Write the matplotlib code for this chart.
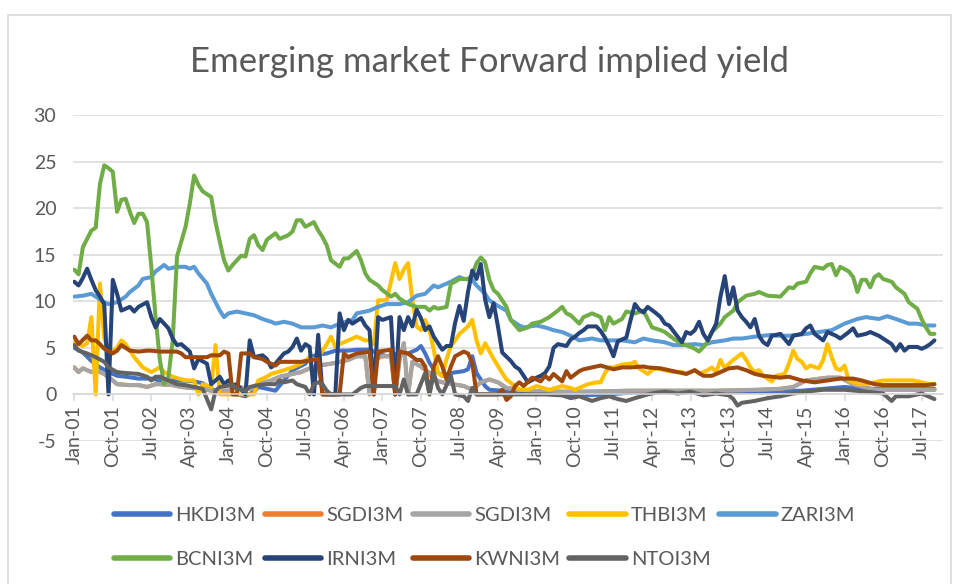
import matplotlib
matplotlib.use("Agg")
import matplotlib.pyplot as plt
from matplotlib.patches import Rectangle

plt.rcParams['font.family'] = ['Lato', 'DejaVu Sans']

title = "Emerging market Forward implied yield"

# month index 0 = Jan-01
tick_months = [0, 9, 18, 27, 36, 45, 54, 63, 72, 81, 90, 99, 108, 117, 126, 135,
               144, 153, 162, 171, 180, 189, 198]
tick_labels = ["Jan-01", "Oct-01", "Jul-02", "Apr-03", "Jan-04", "Oct-04", "Jul-05",
               "Apr-06", "Jan-07", "Oct-07", "Jul-08", "Apr-09", "Jan-10", "Oct-10",
               "Jul-11", "Apr-12", "Jan-13", "Oct-13", "Jul-14", "Apr-15", "Jan-16",
               "Oct-16", "Jul-17"]
y_ticks = [-5, 0, 5, 10, 15, 20, 25, 30]

hkdi_m = [0, 2, 4, 6, 8, 10, 12, 15, 18, 20, 22, 25, 28, 30, 32, 34, 36, 38, 40, 42, 43, 45, 47,
          49, 51, 54, 55, 57, 59, 61, 64, 66, 69, 71, 73, 76, 78, 80, 81, 82, 83, 84, 86, 88,
          91, 92, 93, 94, 96, 97, 100, 102, 110, 118, 125, 130, 140, 150, 160, 170, 175, 180,
          185, 190, 195, 201]
hkdi_v = [5.0, 4.5, 3.6, 2.9, 2.4, 2.0, 1.9, 1.7, 1.7, 1.5, 1.5, 1.5, 1.4, 1.2, 0.6, 0.2, 0.2,
          0.0, -0.2, 0.3, 0.8, 0.6, 0.4, 1.5, 2.6, 3.3, 4.0, 4.3, 4.4, 4.7, 4.7, 4.8, 4.8, 4.4,
          4.1, 4.4, 4.4, 4.8, 5.2, 4.4, 3.4, 2.7, 2.0, 2.3, 2.5, 2.7, 4.1, 2.3, 0.9, 0.5, 0.4,
          0.2, 0.1, -0.1, 0.0, 0.2, 0.3, 0.3, 0.3, 0.4, 0.6, 0.8, 0.6, 0.6, 0.6, 0.6]

sgdi_m = [0, 1, 2, 4, 5, 7, 9, 10, 13, 15, 17, 19, 20, 23, 25, 27, 30, 32, 36, 38, 41, 43, 46,
          48, 51, 53, 55, 57, 60, 62, 64, 66, 68, 69, 70, 72, 74, 75, 76, 77, 78, 79, 81, 83,
          84, 86, 91, 93, 95, 97, 99, 101, 104, 110, 120, 130, 140, 150, 160, 165, 168, 171,
          176, 179, 182, 187, 194, 201]
sgdi_v = [2.9, 2.4, 2.8, 2.4, 2.6, 2.2, 1.5, 1.1, 1.0, 1.0, 0.8, 1.1, 1.1, 1.0, 0.8, 0.7, 0.6,
          0.4, 0.4, 0.8, 0.6, 1.1, 1.5, 1.9, 2.2, 2.4, 2.8, 3.1, 3.3, 3.5, 3.7, 4.1, 4.1, 0.0,
          3.7, 4.1, 4.1, 0.0, 3.7, 5.5, 0.0, 3.5, 3.0, 2.3, 1.6, 1.3, 0.9, 0.5, 1.3, 1.6, 1.3,
          0.7, 0.5, 0.3, 0.3, 0.4, 0.4, 0.4, 0.5, 0.6, 0.8, 1.5, 1.8, 1.8, 1.1, 0.5, 0.5, 0.5]

thbi_m = [0, 1, 2, 3, 4, 5, 6, 7, 8, 9, 10, 11, 12, 14, 16, 18, 20, 21, 23, 26, 28, 29, 30, 32,
          33, 34, 36, 40, 42, 43, 45, 46, 49, 51, 53, 55, 56, 57, 59, 60, 61, 62, 64, 66, 68,
          69, 70, 71, 73, 75, 76, 77, 78, 79, 80, 81, 82, 83, 84, 85, 86, 87, 88, 89, 90, 91,
          92, 93, 94, 95, 96, 98, 100, 101, 103, 104, 106, 108, 111, 114, 116, 117, 119, 120,
          122, 123, 124, 125, 126, 128, 130, 131, 132, 134, 135, 136, 138, 140, 142, 143, 145,
          146, 148, 149, 150, 151, 152, 153, 154, 156, 157, 158, 159, 160, 161, 163, 164, 166,
          167, 168, 169, 170, 171, 172, 174, 175, 176, 177, 178, 179, 180, 181, 183, 185, 187,
          189, 192, 194, 196, 198, 200, 201]
thbi_v = [5.6, 5.4, 5.2, 5.5, 8.3, 0.0, 11.9, 6.0, 4.9, 4.6, 5.0, 5.8, 5.4, 4.0, 2.9, 2.4, 2.9,
          2.4, 1.9, 1.5, 1.5, 0.0, 1.1, 0.8, 5.3, 0.0, 0.0, 0.0, 0.0, 1.5, 1.9, 2.2, 2.6, 2.9,
          3.3, 4.0, 3.7, 4.0, 5.4, 6.2, 5.1, 5.4, 5.8, 6.2, 5.8, 5.8, 5.4, 10.1, 10.1, 14.1,
          12.4, 13.4, 14.1, 10.1, 7.3, 6.9, 8.0, 6.9, 4.8, 2.3, 2.0, 3.8, 5.2, 5.8, 6.5, 6.9,
          7.3, 8.0, 5.8, 4.4, 5.5, 3.8, 2.3, 1.6, 0.9, 0.5, 0.5, 0.9, 0.5, 0.9, 0.7, 0.5, 0.9,
          1.1, 1.3, 1.3, 2.3, 2.9, 2.9, 3.2, 3.3, 3.5, 2.8, 2.2, 2.6, 2.8, 2.6, 2.4, 2.4, 2.2,
          2.6, 2.2, 2.6, 2.9, 2.4, 3.7, 2.8, 3.3, 3.7, 4.4, 3.7, 2.9, 2.4, 2.6, 2.0, 1.4, 2.0,
          2.2, 3.3, 4.7, 3.8, 3.5, 2.8, 3.1, 2.8, 3.7, 5.4, 4.0, 2.8, 2.6, 3.1, 1.5, 1.1, 1.1,
          1.3, 1.5, 1.5, 1.5, 1.5, 1.3, 1.1, 1.1]

zari_m = [0, 2, 4, 5, 7, 8, 10, 12, 13, 15, 16, 18, 19, 21, 22, 24, 26, 27, 28, 29, 31, 32, 33,
          34, 35, 36, 38, 40, 42, 44, 46, 47, 49, 51, 53, 56, 58, 60, 62, 65, 66, 69, 71, 73,
          76, 78, 80, 82, 84, 85, 87, 88, 90, 91, 93, 94, 96, 97, 99, 101, 102, 104, 105, 108,
          110, 112, 114, 116, 118, 121, 123, 125, 128, 131, 133, 135, 138, 140, 142, 145, 147,
          149, 152, 154, 156, 159, 161, 163, 164, 167, 171, 174, 177, 180, 183, 185, 188, 190,
          192, 195, 197, 199, 201]
zari_v = [10.5, 10.6, 10.8, 10.5, 9.9, 9.7, 9.9, 10.5, 11.0, 11.7, 12.4, 12.6, 13.2, 13.9,
          13.5, 13.7, 13.7, 13.5, 13.7, 13.0, 11.9, 10.8, 9.9, 9.0, 8.3, 8.7, 8.9, 8.7, 8.5,
          8.1, 7.8, 7.6, 7.8, 7.6, 7.2, 7.2, 7.4, 7.2, 7.6, 8.0, 8.7, 9.0, 9.4, 9.7, 9.7, 9.9,
          10.6, 10.8, 11.7, 11.5, 11.9, 12.1, 12.6, 12.4, 12.3, 11.7, 10.8, 10.1, 9.5, 9.0,
          8.0, 7.4, 7.2, 7.4, 7.2, 6.9, 6.7, 6.3, 5.8, 6.0, 5.8, 5.8, 5.8, 5.6, 6.0, 5.8, 5.6,
          5.3, 5.3, 5.4, 5.3, 5.6, 5.8, 6.0, 6.0, 6.2, 6.3, 6.4, 6.3, 6.3, 6.5, 6.7, 6.9, 7.6,
          8.1, 8.3, 8.1, 8.4, 8.1, 7.6, 7.6, 7.4, 7.4]

bcni_m = [0, 1, 2, 3, 4, 5, 6, 7, 8, 9, 10, 11, 12, 13, 14, 15, 16, 17, 18, 19, 20, 21, 22, 23,
          24, 26, 27, 28, 29, 30, 32, 33, 34, 35, 36, 37, 38, 39, 40, 41, 42, 43, 44, 45, 47,
          48, 50, 51, 52, 53, 54, 56, 57, 58, 59, 60, 62, 63, 64, 66, 67, 68, 69, 71, 72, 74,
          75, 76, 78, 80, 82, 83, 84, 85, 87, 88, 89, 90, 92, 93, 94, 95, 96, 97, 98, 99, 101,
          102, 104, 106, 107, 109, 111, 113, 114, 115, 116, 118, 119, 120, 121, 123, 124, 125,
          126, 128, 129, 131, 133, 134, 135, 137, 138, 140, 142, 143, 145, 146, 148, 149, 151,
          152, 154, 155, 157, 159, 160, 162, 165, 167, 168, 169, 171, 172, 173, 175, 176, 177,
          178, 179, 181, 182, 183, 184, 185, 186, 187, 188, 189, 191, 192, 194, 195, 197, 198,
          199, 200, 201]
bcni_v = [13.4, 12.9, 15.8, 16.7, 17.6, 17.9, 22.6, 24.6, 24.3, 23.9, 19.6, 20.9, 21.0, 19.6,
          18.4, 19.4, 19.4, 18.5, 13.7, 8.3, 3.7, 1.1, 1.9, 5.8, 14.8, 18.0, 20.5, 23.5, 22.5,
          21.8, 21.2, 18.5, 16.4, 14.4, 13.3, 13.9, 14.4, 14.9, 14.8, 16.7, 17.1, 16.0, 15.5,
          16.6, 17.3, 16.7, 17.1, 17.5, 18.7, 18.7, 18.0, 18.5, 17.6, 16.9, 16.0, 14.4, 13.7,
          14.6, 14.6, 15.4, 14.4, 13.0, 12.3, 11.7, 11.2, 10.5, 10.8, 10.3, 9.7, 9.4, 9.4, 9.0,
          9.4, 9.2, 9.4, 11.9, 12.1, 12.4, 12.4, 12.8, 14.1, 14.7, 14.2, 12.3, 11.2, 10.8, 9.4,
          8.0, 6.9, 7.2, 7.6, 7.8, 8.3, 9.0, 9.4, 8.7, 8.5, 7.6, 8.3, 8.5, 8.7, 8.3, 6.9, 8.3,
          7.6, 8.1, 8.9, 8.7, 9.0, 8.1, 7.2, 6.9, 6.7, 6.0, 5.4, 5.3, 4.9, 4.6, 5.6, 6.7, 7.6,
          8.3, 9.0, 9.9, 10.6, 10.8, 11.0, 10.6, 10.5, 11.5, 11.4, 11.9, 12.1, 13.0, 13.7,
          13.5, 13.9, 14.0, 12.8, 13.7, 13.2, 12.6, 11.0, 12.3, 12.3, 11.5, 12.6, 12.9, 12.4,
          12.1, 11.5, 10.8, 9.9, 9.2, 8.1, 7.2, 6.5, 6.5]

irni_m = [0, 1, 2, 3, 4, 5, 6, 7, 8, 9, 10, 11, 13, 14, 15, 17, 18, 19, 20, 22, 23, 24, 25, 27,
          28, 29, 31, 32, 33, 34, 35, 36, 37, 38, 40, 41, 42, 44, 45, 46, 47, 49, 50, 51, 52,
          53, 54, 55, 56, 57, 58, 61, 62, 63, 64, 65, 67, 68, 69, 70, 71, 72, 74, 75, 76, 77,
          78, 79, 80, 81, 82, 83, 84, 86, 87, 88, 89, 90, 91, 92, 93, 94, 95, 96, 97, 98, 99,
          100, 102, 103, 104, 105, 106, 108, 109, 110, 111, 112, 113, 115, 116, 117, 118, 119,
          120, 122, 123, 124, 125, 126, 127, 129, 130, 131, 132, 133, 134, 136, 137, 138, 139,
          141, 142, 143, 144, 145, 146, 147, 148, 150, 151, 152, 153, 154, 155, 156, 157, 158,
          159, 160, 161, 162, 163, 165, 167, 168, 170, 171, 172, 173, 175, 176, 178, 179, 181,
          182, 183, 185, 186, 188, 189, 191, 192, 193, 194, 195, 197, 198, 199, 200, 201]
irni_v = [12.1, 11.7, 12.5, 13.5, 12.3, 11.2, 10.5, 9.7, 0.0, 12.3, 10.8, 9.0, 9.4, 8.9, 9.4,
          9.9, 8.3, 7.2, 8.1, 7.1, 6.0, 5.3, 5.4, 4.6, 2.8, 3.8, 3.3, 1.1, 1.5, 1.9, 1.1, 1.5,
          1.0, 1.1, 0.0, 5.8, 4.0, 4.2, 3.8, 2.9, 3.3, 4.4, 4.6, 5.1, 6.0, 4.7, 5.4, 5.1, 0.0,
          6.4, 0.0, 0.0, 8.7, 6.9, 8.0, 7.6, 8.2, 7.4, 6.9, 0.0, 8.3, 8.0, 8.3, 0.0, 8.3, 6.9,
          8.3, 7.3, 9.1, 8.2, 6.9, 7.3, 6.2, 4.8, 5.2, 5.2, 7.7, 9.5, 7.9, 11.0, 13.3, 12.4,
          14.0, 10.2, 8.3, 9.8, 7.3, 4.5, 3.6, 3.0, 2.7, 2.0, 1.3, 1.8, 2.0, 2.3, 3.0, 5.0,
          5.4, 5.2, 5.9, 6.2, 6.6, 6.9, 7.3, 7.3, 6.8, 6.1, 5.2, 4.1, 5.7, 6.1, 8.0, 9.7, 9.1,
          8.8, 9.4, 8.7, 8.3, 7.6, 7.4, 6.2, 5.6, 6.7, 6.5, 6.9, 7.8, 6.5, 5.8, 7.6, 10.5,
          12.7, 9.7, 11.5, 9.0, 8.3, 7.8, 7.2, 8.1, 6.3, 5.6, 5.3, 6.3, 6.5, 5.4, 6.3, 6.5,
          7.1, 7.4, 6.5, 5.8, 6.7, 6.3, 6.0, 6.7, 7.1, 6.3, 6.5, 6.7, 6.3, 6.0, 5.4, 4.7, 5.4,
          4.7, 5.1, 5.1, 4.9, 5.1, 5.4, 5.8]

kwni_m = [0, 1, 3, 4, 5, 6, 7, 9, 10, 11, 13, 15, 17, 18, 20, 22, 24, 25, 26, 28, 31, 32, 34,
          35, 36, 37, 38, 39, 41, 42, 44, 45, 47, 48, 51, 53, 56, 57, 58, 62, 63, 64, 66, 69,
          70, 71, 74, 75, 76, 78, 80, 81, 82, 83, 84, 85, 86, 87, 88, 89, 91, 92, 93, 94, 96,
          99, 100, 101, 102, 103, 104, 105, 107, 108, 109, 110, 111, 112, 114, 115, 116, 118,
          119, 121, 123, 126, 128, 130, 133, 134, 137, 139, 141, 143, 145, 147, 149, 151, 153,
          155, 157, 159, 161, 163, 165, 167, 170, 173, 176, 179, 182, 184, 187, 189, 192, 196,
          199, 201]
kwni_v = [6.2, 5.4, 6.3, 5.8, 5.8, 5.4, 4.9, 4.4, 4.7, 5.3, 4.7, 4.6, 4.7, 4.7, 4.6, 4.6, 4.6,
          4.4, 4.0, 4.0, 4.0, 4.2, 4.2, 4.6, 4.4, 0.0, 0.0, 4.4, 4.4, 4.0, 3.8, 3.5, 3.1, 3.5,
          3.5, 3.5, 3.7, 3.8, 0.0, 0.0, 4.4, 4.0, 4.4, 4.6, 0.0, 4.6, 4.8, 0.0, 4.6, 4.4, 3.7,
          3.7, 3.0, 0.0, 3.0, 4.1, 3.0, 1.6, 3.0, 4.1, 4.6, 4.4, 3.4, 0.0, 0.0, 0.0, 0.5, -0.6,
          -0.2, 0.9, 1.3, 0.9, 1.8, 1.6, 1.4, 2.0, 1.6, 2.2, 1.4, 2.5, 1.8, 2.5, 2.7, 2.9, 3.1,
          2.7, 2.9, 2.9, 3.0, 2.9, 2.8, 2.6, 2.4, 2.2, 2.6, 2.0, 2.0, 2.4, 2.8, 2.9, 2.6, 2.2,
          2.0, 1.9, 1.8, 1.9, 1.5, 1.3, 1.5, 1.7, 1.7, 1.5, 1.1, 1.0, 1.0, 1.0, 1.0, 1.1]

ntoi_m = [0, 1, 3, 5, 7, 8, 10, 12, 15, 17, 18, 19, 20, 22, 24, 26, 28, 30, 32, 33, 34, 37, 38,
          40, 41, 43, 45, 47, 48, 49, 51, 52, 54, 55, 56, 57, 58, 59, 60, 62, 65, 67, 68, 70,
          73, 75, 76, 77, 78, 80, 82, 83, 84, 85, 86, 88, 89, 91, 92, 93, 94, 100, 105, 110,
          114, 116, 118, 121, 123, 125, 127, 129, 131, 134, 136, 138, 141, 144, 147, 150, 153,
          154, 155, 156, 159, 162, 165, 168, 171, 175, 180, 185, 189, 191, 192, 195, 198, 201]
ntoi_v = [5.3, 4.7, 4.4, 4.0, 3.5, 2.9, 2.4, 2.3, 2.2, 1.9, 1.5, 1.9, 1.9, 1.5, 1.1, 1.0, 0.8,
          0.6, -1.6, 0.4, 0.8, 1.0, 0.6, 0.4, 0.8, 1.0, 1.1, 1.1, 1.5, 1.3, 1.5, 1.1, 0.8, 0.0,
          1.1, 1.3, 1.1, 0.4, 0.0, 0.0, 0.0, 0.7, 0.9, 0.9, 0.9, 0.9, 0.0, 1.6, 0.0, 0.0, 2.3,
          0.0, 2.3, 0.7, 0.0, 2.0, 0.0, -0.2, -0.7, 0.7, 0.0, 0.0, 0.0, 0.0, -0.1, -0.4, -0.2,
          -0.7, -0.4, -0.2, -0.5, -0.7, -0.4, 0.0, 0.2, 0.3, 0.1, 0.3, -0.1, 0.1, -0.1, -0.5,
          -1.2, -0.9, -0.7, -0.4, -0.2, 0.1, 0.3, 0.5, 0.5, 0.3, 0.1, -0.7, -0.2, -0.2, 0.1,
          -0.5]

series = [
    ("HKDI3M", hkdi_m, hkdi_v, "#4472C4"),
    ("SGDI3M", sgdi_m, sgdi_v, "#ED7D31"),
    ("SGDI3M", sgdi_m, sgdi_v, "#A5A5A5"),
    ("THBI3M", thbi_m, thbi_v, "#FFC000"),
    ("ZARI3M", zari_m, zari_v, "#5B9BD5"),
    ("BCNI3M", bcni_m, bcni_v, "#70AD47"),
    ("IRNI3M", irni_m, irni_v, "#264478"),
    ("KWNI3M", kwni_m, kwni_v, "#9E480E"),
    ("NTOI3M", ntoi_m, ntoi_v, "#636363"),
]

W, H = 955, 584
fig = plt.figure(figsize=(W / 100, H / 100), dpi=100)
fig.patch.set_facecolor("white")

# chart outer border
fig.add_artist(Rectangle((8 / W, -0.05), (951 - 8) / W, (H - 15) / H + 0.05,
                         transform=fig.transFigure, fill=False,
                         edgecolor="#D9D9D9", lw=1.2))

ax = fig.add_axes([73 / W, (H - 441) / H, 870 / W, 326 / H])
for s in ["left", "right", "top"]:
    ax.spines[s].set_visible(False)
ax.spines["bottom"].set_position(("data", 0))
ax.spines["bottom"].set_color("#D9D9D9")
ax.spines["bottom"].set_linewidth(1.1)

handles = []
for name, m, v, c in series:
    ln, = ax.plot(m, v, color=c, lw=2.9, label=name,
                  solid_joinstyle="round", solid_capstyle="round")
    handles.append(ln)

ax.set_xlim(-0.3, 203)
ax.set_ylim(-5, 30)
ax.set_yticks(y_ticks)
ax.set_yticklabels([str(t) for t in y_ticks])
ax.set_xticks(tick_months)
ax.set_xticklabels(tick_labels)

ax.grid(axis="y", color="#D9D9D9", lw=1.1)
ax.set_axisbelow(True)
ax.tick_params(axis="x", colors="#D9D9D9", labelcolor="#595959", labelsize=14,
               length=5, width=1.1, direction="out", pad=3, labelrotation=90)
for lab in ax.get_xticklabels():
    lab.set_ha("center")
    lab.set_va("top")
ax.tick_params(axis="y", length=0, labelcolor="#595959", labelsize=14, pad=12)

fig.text(489.5 / W, 1 - 62 / H, title, ha="center", va="center",
         fontsize=25, color="#595959")

order = [0, 5, 1, 6, 2, 7, 3, 8, 4]
leg = fig.legend([handles[i] for i in order], [series[i][0] for i in order],
                 ncol=5, loc="upper left", bbox_to_anchor=(114 / W, 1 - 507 / H),
                 frameon=False, fontsize=14.5, handlelength=2.8, handletextpad=0.25,
                 columnspacing=0.45, labelspacing=1.35, borderpad=0, borderaxespad=0)
for t in leg.get_texts():
    t.set_color("#595959")
for l in leg.get_lines():
    l.set_linewidth(4)

fig.savefig("out.png", dpi=100, facecolor="white")
